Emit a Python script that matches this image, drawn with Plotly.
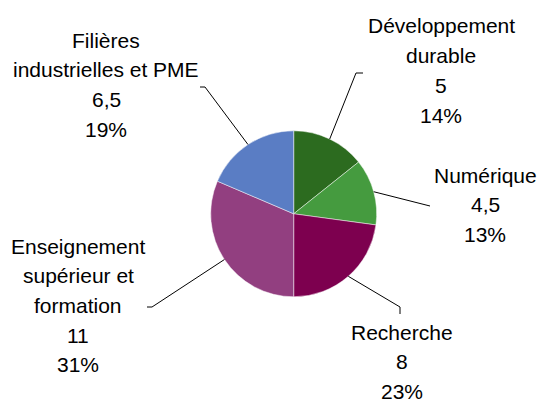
import math
import plotly.graph_objects as go

# ---- data ----
categories = ["Développement durable", "Numérique", "Recherche",
              "Enseignement supérieur et formation", "Filières industrielles et PME"]
values = [5, 4.5, 8, 11, 6.5]
label_lines = [["Développement", "durable"], ["Numérique"], ["Recherche"],
               ["Enseignement", "supérieur et", "formation"],
               ["Filières", "industrielles et PME"]]
colors = ["#2C6B1F", "#459B3F", "#7D004F", "#923F80", "#5A7DC4"]

W, H = 538, 401
CX, CY, R = 293.7, 213.8, 83.0

# label block layout (pixel centre x, first line y) and leader-line end geometry
label_pos = [(441, 26), (485, 175), (402, 332), (78, 246), (106, 40)]
leader_end = [[(356, 73), (363, 73)],
              [(430, 206)],
              [(400, 307), (400, 314)],
              [(152, 307), (147, 307)],
              [(205, 87), (200, 87)]]
LINE_STEP = 29.7

def px(x):
    return x / W

def py(y):
    return 1 - y / H

fig = go.Figure(go.Pie(
    labels=categories, values=values, sort=False, direction="clockwise",
    rotation=0, textinfo="none", hoverinfo="none",
    marker=dict(colors=colors, line=dict(color="rgba(255,255,255,0.6)", width=0.8)),
    domain=dict(x=[px(CX - R), px(CX + R)], y=[py(CY + R), py(CY - R)]),
    showlegend=False,
))

total = sum(values)
annotations = []
shapes = []
cum = 0
for i, v in enumerate(values):
    mid = (cum + v / 2) / total * 2 * math.pi
    cum += v
    sx = CX + R * math.sin(mid)
    sy = CY - R * math.cos(mid)
    pts = [(sx, sy)] + leader_end[i]
    path = "M " + " L ".join(f"{px(x)},{py(y)}" for x, y in pts)
    shapes.append(dict(type="path", xref="paper", yref="paper", path=path,
                       line=dict(color="#000000", width=1)))
    val_txt = (f"{v:g}").replace(".", ",")
    pct_txt = f"{round(v / total * 100):.0f}%"
    lines = label_lines[i] + [val_txt, pct_txt]
    x0, y0 = label_pos[i]
    for k, t in enumerate(lines):
        annotations.append(dict(
            text=t, x=px(x0), y=py(y0 + k * LINE_STEP), xref="paper", yref="paper",
            xanchor="center", yanchor="middle", showarrow=False,
            font=dict(family="Liberation Sans, Arial, sans-serif", size=21, color="#000000")))

fig.update_layout(
    width=W, height=H, margin=dict(l=0, r=0, t=0, b=0),
    paper_bgcolor="white", plot_bgcolor="white",
    annotations=annotations, shapes=shapes,
)

fig.write_html("out.html", config={"displayModeBar": False},
               post_script="document.body.style.margin='0';")
